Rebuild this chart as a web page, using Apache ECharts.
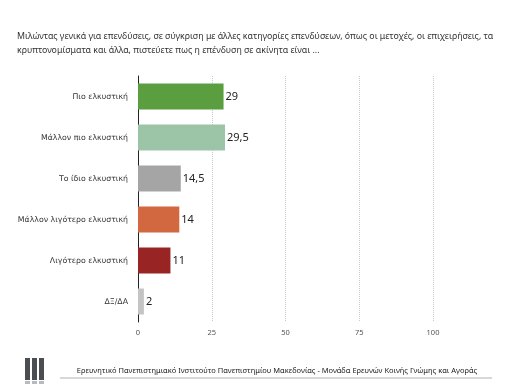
<!DOCTYPE html>
<html><head><meta charset="utf-8">
<script src="https://cdn.jsdelivr.net/npm/echarts@6/dist/echarts.min.js"></script>
<style>html,body{margin:0;padding:0;background:#fff}#c{width:506px;height:387px}</style>
</head><body><div id="c"></div>
<script>
const categories = ['Πιο ελκυστική','Μάλλον πιο ελκυστική','Το ίδιο ελκυστική','Μάλλον λιγότερο ελκυστική','Λιγότερο ελκυστική','ΔΞ/ΔΑ'];
const values = [29, 29.5, 14.5, 14, 11, 2];
const colors = ['#5b9e3f','#9cc5a7','#a5a5a5','#d1683f','#992424','#c4c4c4'];
const xTicks = [0, 25, 50, 75, 100];
const titleLines = ['Μιλώντας γενικά για επενδύσεις, σε σύγκριση με άλλες κατηγορίες επενδύσεων, όπως οι μετοχές, οι επιχειρήσεις, τα',
 'κρυπτονομίσματα και άλλα, πιστεύετε πως η επένδυση σε ακίνητα είναι ...'];
const footer = 'Ερευνητικό Πανεπιστημιακό Ινστιτούτο Πανεπιστημίου Μακεδονίας - Μονάδα Ερευνών Κοινής Γνώμης και Αγοράς';

const chart = echarts.init(document.getElementById('c'), null, {renderer:'canvas'});
chart.setOption({
  animation:false,
  title:{text:titleLines.join('\n'), left:12, top:24, textStyle:{fontFamily:'Noto Sans', fontSize:8.8, fontWeight:'normal', color:'#333', lineHeight:14}},
  grid:{left:138, right:73, top:76, bottom:65, containLabel:false, outerBoundsMode:'none'},
  xAxis:{type:'value', min:0, max:100, interval:25,
    axisLine:{show:false}, axisTick:{show:false},
    axisLabel:{fontFamily:'Noto Sans', fontSize:7.5, color:'#555', margin:7, formatter:v=>xTicks.includes(v)?String(v):''},
    splitLine:{show:true, lineStyle:{color:'#c8c8c8', type:[1,1], width:1}}},
  yAxis:{type:'category', data:categories, inverse:true,
    axisLine:{show:true, lineStyle:{color:'#222', width:1}}, axisTick:{show:false},
    axisLabel:{fontFamily:'DejaVu Sans', fontSize:7.8, color:'#333', margin:10}},
  series:[{type:'bar', data:values.map((v,i)=>({value:v, itemStyle:{color:colors[i]}})),
    barWidth:26,
    label:{show:true, position:'right', distance:2, fontFamily:'Noto Sans', fontSize:11, color:'#222',
      formatter:p=>String(p.value).replace('.',',')}}],
  graphic:[
    {type:'rect', shape:{x:25,y:358,width:5,height:22}, style:{fill:'#4a4d52'}},
    {type:'rect', shape:{x:32,y:358,width:5,height:22}, style:{fill:'#4a4d52'}},
    {type:'rect', shape:{x:39,y:358,width:5,height:22}, style:{fill:'#4a4d52'}},
    {type:'rect', shape:{x:25,y:381,width:5,height:3}, style:{fill:'#b8babd'}},
    {type:'rect', shape:{x:32,y:381,width:5,height:3}, style:{fill:'#b8babd'}},
    {type:'rect', shape:{x:39,y:381,width:5,height:3}, style:{fill:'#b8babd'}},
    {type:'rect', shape:{x:60,y:377,width:432,height:2}, style:{fill:'#d8d8d8'}},
    {type:'text', x:277, y:371, style:{text:footer, fontFamily:'Noto Sans', fontSize:7.5, fill:'#222', align:'center', verticalAlign:'middle'}}
  ]
});
</script></body></html>
